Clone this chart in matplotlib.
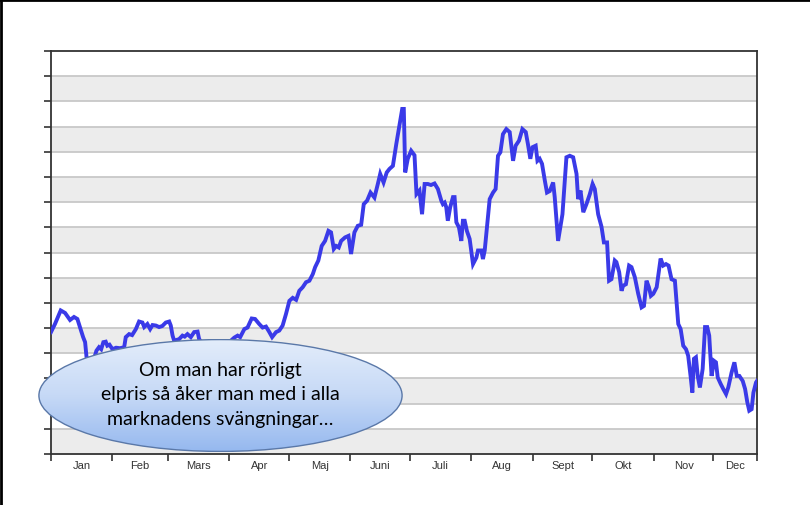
import numpy as np
import matplotlib
matplotlib.use("Agg")
import matplotlib.pyplot as plt
from matplotlib.patches import Ellipse
from matplotlib.lines import Line2D
from matplotlib.colors import LinearSegmentedColormap

# Day of year and spot price (öre/kWh)
days = [
    0.0, 2.0, 4.9, 7.1, 9.6, 11.6, 13.3, 14.6, 16.2, 17.2, 17.9, 19.7, 21.7, 22.9,
    24.2, 25.3, 26.4, 27.6, 28.4, 29.5, 31.0, 32.8, 34.8, 36.9, 37.7, 39.4, 40.9,
    42.8, 44.4, 46.1, 47.0, 48.6, 50.0, 51.2, 52.9, 54.5, 56.1, 57.9, 59.6, 60.4,
    61.3, 62.1, 64.6, 66.3, 67.4, 68.8, 70.5, 72.2, 73.9, 74.7, 77.8, 82.3, 86.9,
    89.9, 92.4, 94.1, 95.4, 97.5, 99.1, 101.2, 102.9, 105.0, 106.7, 108.4, 110.1,
    111.5, 113.5, 115.1, 116.8, 118.5, 120.2, 121.9, 123.6, 125.2, 126.9, 128.6,
    130.3, 132.0, 133.2, 134.8, 136.5, 138.2, 139.9, 141.2, 142.6, 143.8, 145.1,
    146.3, 148.3, 150.0, 151.3, 153.0, 154.7, 156.4, 157.7, 159.4, 161.1, 163.1,
    164.8, 166.0, 167.7, 169.3, 170.7, 172.4, 174.1, 175.7, 177.1, 177.9, 178.6,
    179.9, 181.6, 183.3, 184.3, 185.8, 187.1, 188.4, 190.0, 191.6, 193.4, 195.1,
    196.8, 197.6, 198.5, 199.3, 200.1, 201.3, 202.7, 203.5, 204.4, 205.7, 206.9,
    207.7, 208.6, 209.7, 211.1, 212.8, 214.5, 215.3, 217.0, 217.8, 218.7, 221.2,
    222.9, 224.2, 225.4, 226.6, 227.9, 229.6, 231.3, 233.0, 234.3, 236.0, 237.7,
    239.4, 240.5, 241.7, 242.8, 244.4, 245.3, 246.4, 247.6, 249.0, 250.1, 251.5,
    253.2, 254.0, 255.7, 257.9, 259.9, 261.6, 263.3, 265.0, 265.8, 267.0, 268.4,
    270.0, 271.7, 273.1, 274.2, 275.9, 277.6, 278.8, 280.4, 281.4, 282.6, 284.3,
    285.1, 286.5, 287.7, 288.5, 289.9, 291.5, 292.7, 294.4, 296.1, 297.8, 299.0,
    300.3, 301.5, 302.5, 303.7, 305.4, 307.4, 308.7, 310.1, 311.4, 312.9, 314.6,
    316.3, 317.5, 318.8, 320.2, 321.3, 322.5, 323.4, 324.2, 325.2, 326.1, 327.2,
    328.6, 329.8, 330.9, 331.9, 333.1, 334.3, 335.3, 336.2, 337.7, 339.0, 340.4,
    341.5, 343.2, 344.6, 345.8, 347.1, 348.8, 350.0, 351.1, 352.1, 353.3, 354.2,
    355.5, 356.0,
]
prices = [
    24.2, 25.8, 28.5, 28.0, 26.6, 27.2, 26.8, 25.2, 23.2, 22.2, 19.3, 17.9, 18.9, 20.5,
    21.2, 20.8, 22.2, 22.3, 21.5, 21.7, 20.8, 21.1, 21.0, 21.2, 23.2, 23.8, 23.6,
    24.8, 26.3, 26.1, 25.2, 25.8, 24.8, 25.6, 25.5, 25.2, 25.4, 26.1, 26.3, 25.5,
    23.5, 22.5, 22.8, 23.5, 23.3, 23.8, 23.2, 24.2, 24.3, 22.8, 21.2, 20.6, 21.2,
    22.2, 23.1, 23.5, 23.2, 24.8, 25.1, 26.9, 26.8, 25.8, 25.1, 25.3, 24.2,
    23.2, 24.2, 24.5, 25.5, 27.8, 30.4, 31.0, 30.6, 32.4, 33.1, 34.1,
    34.4, 35.7, 37.1, 38.4, 41.3, 42.3, 44.3, 44.0, 40.7, 41.3, 41.0,
    42.3, 43.0, 43.3, 39.7, 44.0, 45.3, 45.5, 49.6, 50.3, 51.9, 50.9,
    53.6, 55.6, 53.9, 55.9, 56.6, 57.2, 61.5, 65.2, 68.5, 68.5, 55.9,
    58.6, 60.2, 59.3, 51.6, 52.3, 47.6, 53.6, 53.6, 53.4, 53.7, 52.6,
    50.3, 49.6, 49.9, 49.0, 46.3, 49.0, 51.0, 51.0, 46.0, 45.0, 42.3,
    46.3, 46.3, 44.3, 42.7, 37.7, 39.0, 40.4, 40.4, 38.7, 40.4, 50.6,
    51.9, 52.6, 59.2, 59.9, 63.5, 64.5, 63.9, 58.2, 61.2, 62.2, 64.5,
    63.9, 61.5, 58.6, 60.9, 61.2, 58.2, 58.6, 57.6, 54.3, 51.9, 52.2,
    53.9, 51.0, 42.3, 47.6, 58.9, 59.2, 58.9, 55.6, 50.6, 52.3, 48.0,
    49.6, 51.6, 53.6, 52.6, 47.6, 45.1, 42.0, 42.0, 34.4, 34.7, 38.4,
    38.1, 36.1, 32.4, 33.4, 33.7, 37.4, 37.1, 35.1, 31.8, 29.1, 29.4,
    34.4, 33.1, 31.4, 31.8, 33.1, 38.8, 37.4, 37.7, 37.4, 34.7, 34.4,
    25.8, 24.8, 21.5, 20.8, 19.5, 15.5, 12.2, 18.9, 19.2, 15.5, 13.2,
    16.9, 25.2, 25.2, 23.5, 15.5, 18.5, 18.2, 15.2, 13.9, 12.9, 11.9,
    13.2, 16.2, 18.2, 15.5, 15.5, 14.5, 12.9, 10.3, 8.6, 8.9, 12.2,
    14.2, 14.5,
]

month_names = ["Jan", "Feb", "Mars", "Apr", "Maj", "Juni", "Juli", "Aug",
               "Sept", "Okt", "Nov", "Dec"]
month_starts = [0, 31, 59, 90, 120, 151, 181, 212, 243, 273, 304, 334]
last_day = 356

bubble_lines = ["Om man har rörligt",
                "elpris så åker man med i alla",
                "marknadens svängningar…"]

fig = plt.figure(figsize=(8.1, 5.06), dpi=100)
fig.patch.set_facecolor("white")

ax = fig.add_axes([51 / 810, 1 - 455 / 506, 706 / 810, 403 / 506])
ax.set_xlim(0, last_day)
ax.set_ylim(0, 80)

# alternating grey bands and grid lines
for lo in range(0, 80, 10):
    ax.axhspan(lo, lo + 5, color="#ececec", zorder=0, lw=0)
for y in range(5, 80, 5):
    ax.axhline(y, color="#c8c8c8", lw=1.3, zorder=1)

ax.plot(days, prices, color="#3a3ae8", lw=2.8, zorder=3, solid_joinstyle="miter")

# month boundaries as ticks, names centred in between
ax.set_xticks(month_starts + [last_day])
ax.set_xticklabels([])
mids = [(a + b) / 2 for a, b in zip(month_starts, month_starts[1:] + [last_day])]
ax.set_xticks(mids, minor=True)
ax.set_xticklabels(month_names, minor=True, fontsize=8, color="#333333",
                   family="Liberation Sans")
ax.tick_params(axis="x", which="major", direction="out", length=5, width=1.2,
               color="#333333")
ax.tick_params(axis="x", which="minor", length=0, pad=4)

ax.set_yticks(range(0, 81, 5))
ax.set_yticklabels([])
ax.tick_params(axis="y", direction="out", length=5, width=1.2, color="#333333")

for side in ["left", "bottom", "right", "top"]:
    ax.spines[side].set_color("#333333")
    ax.spines[side].set_linewidth(1.3)

# speech bubble with blue gradient
bx = fig.add_axes([38 / 810, 1 - 453 / 506, 365 / 810, 113 / 506])
bx.set_xlim(0, 1)
bx.set_ylim(0, 1)
bx.axis("off")
cmap = LinearSegmentedColormap.from_list("bub", ["#95b8ef", "#c6d9f6", "#e3edfb"])
grad = np.linspace(0, 1, 256).reshape(-1, 1)
img = bx.imshow(grad, extent=[0, 1, 0, 1], origin="lower", cmap=cmap,
                aspect="auto", zorder=1)
ell = Ellipse((0.5, 0.5), 0.995, 0.99, transform=bx.transAxes,
              facecolor="none", edgecolor="#5a78a8", lw=1.0, zorder=2)
bx.add_patch(ell)
img.set_clip_path(ell)
for i, line in enumerate(bubble_lines):
    bx.text(0.5, 0.73 - i * 0.215, line, ha="center", va="center",
            fontsize=14, family="Lato", color="black", zorder=3)

# slide frame (top and left edges)
fig.add_artist(Line2D([0, 1], [0.998, 0.998], color="black", lw=2,
                      transform=fig.transFigure))
fig.add_artist(Line2D([0.0012, 0.0012], [0, 1], color="black", lw=2,
                      transform=fig.transFigure))

fig.savefig("out.png", dpi=100)
